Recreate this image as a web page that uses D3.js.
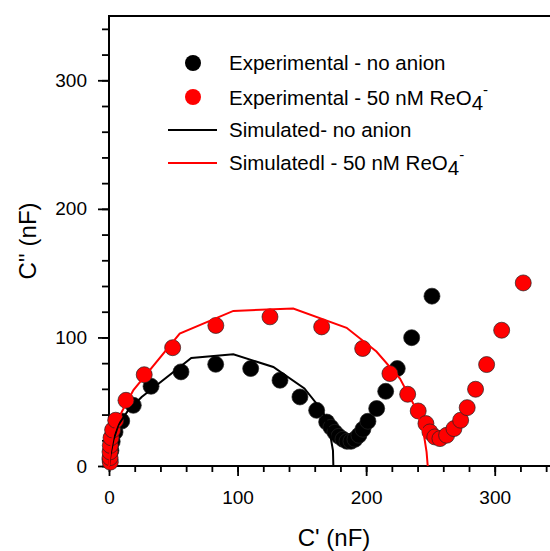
<!DOCTYPE html>
<html>
<head>
<meta charset="utf-8">
<script src="https://cdn.jsdelivr.net/npm/d3@7"></script>
<style>
  html, body { margin: 0; padding: 0; background: #fff; }
  text { font-family: "Liberation Sans", Arial, sans-serif; fill: #000; }
</style>
</head>
<body>
<div id="chart"></div>
<script>
//////////////////////
//  main constants  //
//////////////////////
const WIDTH = 550;
const HEIGHT = 551;
const MARGIN = { TOP: 16, LEFT: 109, PLOT: 450 };

// C' (nF), C'' (nF)
const expNoAnionX = [0.8, 1.5, 2.5, 4.7, 9.9, 18.9, 32.7, 56, 83, 110.2, 133, 148.5, 161.5, 169.3,
  172.6, 175.7, 178.8, 182, 185.1, 188.2, 191.3, 194.4, 197.5, 201.4, 208.2, 215.2, 224.2, 235.4, 251.2];
const expNoAnionY = [5, 12, 19, 26.5, 35, 47.2, 62, 73.2, 79.1, 75.8, 66.7, 53.7, 43.3, 34.2,
  30.1, 26.2, 23.1, 20.8, 19.2, 19.2, 20.8, 23.9, 28.6, 34.8, 44.7, 58.1, 75.8, 99.8, 132.1];

const expReO4X = [1, 0.8, 0.8, 1, 1.6, 2.8, 5.2, 13.2, 27.4, 49.5, 83.1, 125.2, 165.4, 197.3, 218.5,
  232.3, 240.5, 246.5, 249.6, 253.4, 257.4, 262.6, 268.3, 273.5, 278.6, 285.1, 293.7, 305.4, 322.2];
const expReO4Y = [3, 6.5, 11, 16, 22, 28, 35.6, 51.1, 71, 92, 109.3, 116, 108.2, 91.4, 71.9,
  55.8, 42.8, 33, 26.5, 22.6, 21.3, 23.9, 29.1, 35.6, 45.4, 59.7, 78.9, 105.6, 142.4];

const simNoAnionX = [0, 1.2, 3.4, 7.2, 15, 25.4, 64, 96.7, 127.8, 152, 166.6, 171.9, 174.2, 174.5];
const simNoAnionY = [0, 9, 20, 31.7, 43.4, 53.7, 84, 86.9, 77, 60.3, 42, 25.2, 12, 0];

const simReO4X = [0, 0.9, 3.4, 9.9, 19, 55, 96.7, 143.3, 184.8, 208, 226.3, 238.5, 244.5, 247, 247.9];
const simReO4Y = [0, 11, 25.2, 42, 59, 103, 120.6, 122.5, 107.5, 89, 68, 45, 27, 11, 0];

const majorTicks = [0, 100, 200, 300];
const minorTicks = d3.range(0, 350, 20);

const xLabel = "C' (nF)";
const yLabel = "C'' (nF)";

/////////////////////////
//  svg and the scales  //
/////////////////////////
const SVG = d3.select('#chart').append('svg')
    .attr('width', WIDTH)
    .attr('height', HEIGHT);

const x = d3.scaleLinear().domain([0, 350])
    .range([MARGIN.LEFT, MARGIN.LEFT + MARGIN.PLOT]);
const y = d3.scaleLinear().domain([0, 350])
    .range([MARGIN.TOP + MARGIN.PLOT, MARGIN.TOP]);

const x0 = x(0), y0 = y(0);

/////////////
//  axes  //
/////////////
function styleAxis(g) {
    g.select('.domain').remove();
    g.selectAll('.tick line').attr('stroke', '#000').attr('stroke-width', 1.8);
    g.selectAll('.tick text')
        .style('font-family', '"Liberation Sans", Arial, sans-serif')
        .style('font-size', '19px')
        .attr('fill', '#000');
}

SVG.append('g').attr('transform', `translate(0,${y0})`)
    .call(d3.axisBottom(x).tickValues(minorTicks).tickSize(6).tickFormat(''))
    .call(styleAxis);
SVG.append('g').attr('transform', `translate(0,${y0})`)
    .call(d3.axisBottom(x).tickValues(majorTicks).tickSize(10).tickPadding(15))
    .call(styleAxis);

SVG.append('g').attr('transform', `translate(${x0},0)`)
    .call(d3.axisLeft(y).tickValues(minorTicks).tickSize(7).tickFormat(''))
    .call(styleAxis);
SVG.append('g').attr('transform', `translate(${x0},0)`)
    .call(d3.axisLeft(y).tickValues(majorTicks).tickSize(11).tickPadding(11))
    .call(styleAxis);

// frame
const frame = SVG.append('g').attr('stroke', '#000').attr('stroke-width', 2).attr('fill', 'none');
frame.append('line').attr('x1', x0).attr('x2', x0).attr('y1', y(350)).attr('y2', y0);
frame.append('line').attr('x1', x0).attr('x2', x(350)).attr('y1', y0).attr('y2', y0);
frame.append('line').attr('x1', x0 - 1).attr('x2', x(350)).attr('y1', y(350)).attr('y2', y(350));

// axis titles
SVG.append('text')
    .attr('x', x(175)).attr('y', 546)
    .attr('text-anchor', 'middle')
    .style('font-size', '24px')
    .text(xLabel);
SVG.append('text')
    .attr('transform', `translate(36,${y(175)}) rotate(-90)`)
    .attr('text-anchor', 'middle')
    .style('font-size', '24px')
    .text(yLabel);

////////////////
//  the data  //
////////////////
const R = 8;
function drawPoints(xs, ys, fill) {
    SVG.append('g').selectAll('circle')
        .data(xs.map((d, i) => [d, ys[i]]))
        .join('circle')
        .attr('cx', d => x(d[0]))
        .attr('cy', d => y(d[1]))
        .attr('r', R)
        .attr('fill', fill)
        .attr('stroke', '#222')
        .attr('stroke-width', 0.7);
}
drawPoints(expNoAnionX, expNoAnionY, '#000');
drawPoints(expReO4X, expReO4Y, '#ff0000');

const line = d3.line().x(d => x(d[0])).y(d => y(d[1]));
function drawLine(xs, ys, color) {
    SVG.append('path')
        .datum(xs.map((d, i) => [d, ys[i]]))
        .attr('d', line)
        .attr('fill', 'none')
        .attr('stroke', color)
        .attr('stroke-width', 2);
}
drawLine(simNoAnionX, simNoAnionY, '#000');
drawLine(simReO4X, simReO4Y, '#ff0000');

//////////////
//  legend  //
//////////////
const legend = SVG.append('g').style('font-size', '20.5px');
const rows = [
    { type: 'dot', color: '#000', y: 63, base: 70, label: ['Experimental - no anion'] },
    { type: 'dot', color: '#ff0000', y: 97, base: 105, label: ['Experimental - 50 nM ReO', '4', '-'] },
    { type: 'line', color: '#000', y: 130, base: 137, label: ['Simulated- no anion'] },
    { type: 'line', color: '#ff0000', y: 163, base: 170, label: ['Simulatedl - 50 nM ReO', '4', '-'] }
];
rows.forEach(r => {
    if (r.type === 'dot') {
        legend.append('circle').attr('cx', 193).attr('cy', r.y).attr('r', R).attr('fill', r.color);
    } else {
        legend.append('line').attr('x1', 168).attr('x2', 217).attr('y1', r.y).attr('y2', r.y)
            .attr('stroke', r.color).attr('stroke-width', 2);
    }
    const t = legend.append('text').attr('x', 229).attr('y', r.base);
    t.append('tspan').text(r.label[0]);
    if (r.label.length > 1) {
        t.append('tspan').attr('dy', 5).text(r.label[1]);
        t.append('tspan').attr('dy', -15).style('font-size', '15px').text(r.label[2]);
    }
});
</script>
</body>
</html>
